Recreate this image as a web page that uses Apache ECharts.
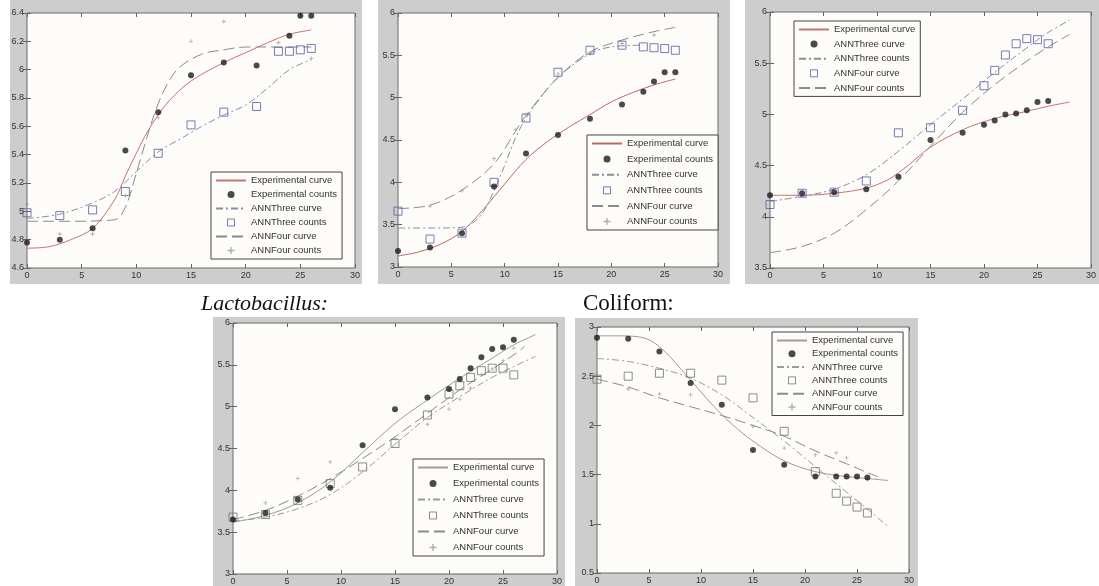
<!DOCTYPE html>
<html>
<head>
<meta charset="utf-8">
<script src="https://cdn.jsdelivr.net/npm/echarts@6/dist/echarts.min.js"></script>
<style>
html,body{margin:0;padding:0;background:#fff;}
#chart{width:1099px;height:586px;}
</style>
</head>
<body>
<div id="chart"></div>
<script>
// ---------- Panel 1 ----------
const p1ExpCurveX = [0,2,4,6,8,9,10,11,12,13,15,18,20,22,24,26];
const p1ExpCurveY = [4.74,4.75,4.80,4.88,5.08,5.25,5.41,5.56,5.68,5.78,5.92,6.05,6.12,6.19,6.25,6.28];
const p1ExpCountX = [0,3,6,9,12,15,18,21,24,25,26];
const p1ExpCountY = [4.78,4.80,4.88,5.43,5.70,5.96,6.05,6.03,6.24,6.38,6.38];
const p1ThreeCurveX = [0,3,6,8,10,12,14,16,18,20,22,24,26];
const p1ThreeCurveY = [4.95,4.98,5.06,5.14,5.28,5.42,5.51,5.60,5.68,5.75,5.87,6.00,6.07];
const p1ThreeCountX = [0,3,6,9,12,15,18,21,23,24,25,26];
const p1ThreeCountY = [4.99,4.97,5.01,5.14,5.41,5.61,5.70,5.74,6.13,6.13,6.14,6.15];
const p1FourCurveX = [0,4,8,9,10,11,12,13,14,16,18,20,23,26];
const p1FourCurveY = [4.93,4.93,4.94,5.03,5.27,5.53,5.76,5.92,6.02,6.11,6.14,6.16,6.16,6.16];
const p1FourCountX = [0,3,6,9,12,15,18,23,26];
const p1FourCountY = [5.05,4.84,4.84,5.11,5.66,6.20,6.34,6.19,6.08];

// ---------- Panel 2 ----------
const p2ExpCurveX = [0,2,4,6,8,9,10,12,14,16,18,20,22,24,26];
const p2ExpCurveY = [3.13,3.18,3.27,3.42,3.68,3.83,3.98,4.27,4.48,4.65,4.80,4.95,5.06,5.15,5.22];
const p2ExpCountX = [0,3,6,9,12,15,18,21,23,24,25,26];
const p2ExpCountY = [3.19,3.23,3.40,3.95,4.34,4.56,4.75,4.92,5.07,5.19,5.30,5.30];
const p2ThreeCurveX = [0,3,6,7,8,9,10,11,12,13,15,18,20,23];
const p2ThreeCurveY = [3.46,3.46,3.47,3.52,3.65,3.90,4.20,4.52,4.76,4.94,5.24,5.52,5.60,5.62];
const p2ThreeCountX = [0,3,6,9,12,15,18,21,23,24,25,26];
const p2ThreeCountY = [3.66,3.33,3.40,4.00,4.76,5.30,5.56,5.62,5.60,5.59,5.58,5.56];
const p2FourCurveX = [0,3,6,9,11,12,15,18,21,24,26];
const p2FourCurveY = [3.69,3.73,3.91,4.22,4.60,4.79,5.24,5.54,5.68,5.78,5.83];
const p2FourCountX = [3,6,9,11,12,15,18,21,24];
const p2FourCountY = [3.72,3.90,4.28,4.62,4.80,5.28,5.52,5.64,5.74];

// ---------- Panel 3 ----------
const p3ExpCurveX = [0,3,6,9,11,12,13,15,18,21,24,26,28];
const p3ExpCurveY = [4.21,4.21,4.23,4.28,4.36,4.43,4.51,4.68,4.85,4.96,5.03,5.08,5.12];
const p3DotX = [0,3,6,9,12,15,18,20,21,22,23,24,25,26];
const p3DotY = [4.21,4.23,4.24,4.27,4.39,4.75,4.82,4.90,4.94,5.00,5.01,5.04,5.12,5.13];
const p3DashDotX = [0,3,6,9,12,15,18,21,24,26,28];
const p3DashDotY = [4.15,4.20,4.27,4.41,4.64,4.90,5.15,5.41,5.65,5.80,5.92];
const p3SquareX = [0,3,6,9,12,15,18,20,21,22,23,24,25,26];
const p3SquareY = [4.12,4.23,4.24,4.35,4.82,4.87,5.04,5.28,5.43,5.58,5.69,5.74,5.73,5.69];
const p3LongDashX = [0,3,6,9,12,15,18,21,24,26,28];
const p3LongDashY = [3.65,3.71,3.84,4.07,4.35,4.69,5.02,5.29,5.52,5.66,5.78];

// ---------- Panel 4 (Lactobacillus) ----------
const p4ExpCurveX = [0,3,6,9,12,15,18,21,24,26,28];
const p4ExpCurveY = [3.62,3.70,3.85,4.10,4.45,4.80,5.08,5.34,5.58,5.74,5.86];
const p4ExpCountX = [0,3,6,9,12,15,18,20,21,22,23,24,25,26];
const p4ExpCountY = [3.65,3.73,3.89,4.03,4.54,4.97,5.11,5.21,5.33,5.46,5.59,5.69,5.71,5.80];
const p4ThreeCurveX = [0,3,6,9,12,15,18,21,24,26,28];
const p4ThreeCurveY = [3.63,3.68,3.78,3.95,4.22,4.55,4.87,5.12,5.35,5.48,5.60];
const p4ThreeCountX = [0,3,6,9,12,15,18,20,21,22,23,24,25,26];
const p4ThreeCountY = [3.68,3.71,3.88,4.08,4.28,4.56,4.90,5.15,5.25,5.35,5.43,5.46,5.46,5.38];
const p4FourCurveX = [0,3,6,9,12,15,18,21,24,26,27];
const p4FourCurveY = [3.65,3.76,3.93,4.14,4.38,4.64,4.92,5.20,5.45,5.62,5.72];
const p4FourCountX = [0,3,6,9,15,18,20,21,22,23,24,25,26];
const p4FourCountY = [3.66,3.85,4.14,4.34,4.62,4.79,4.97,5.09,5.22,5.38,5.45,5.55,5.70];

// ---------- Panel 5 (Coliform) ----------
const p5ExpCurveX = [0,2,4,5,6,7,8,9,10,11,12,13,15,18,21,24,26,28];
const p5ExpCurveY = [2.91,2.91,2.90,2.87,2.80,2.70,2.58,2.46,2.34,2.22,2.11,2.01,1.84,1.64,1.53,1.48,1.46,1.44];
const p5ExpCountX = [0,3,6,9,12,15,18,21,23,24,25,26];
const p5ExpCountY = [2.89,2.88,2.75,2.43,2.21,1.75,1.60,1.48,1.48,1.48,1.48,1.47];
const p5ThreeCurveX = [0,3,6,9,12,15,18,21,24,26,28];
const p5ThreeCurveY = [2.68,2.65,2.58,2.48,2.31,2.08,1.84,1.58,1.32,1.15,0.97];
const p5ThreeCountX = [0,3,6,9,12,15,18,21,23,24,25,26];
const p5ThreeCountY = [2.47,2.50,2.53,2.53,2.46,2.28,1.94,1.53,1.31,1.23,1.17,1.11];
const p5FourCurveX = [0,3,6,9,12,15,18,21,24,26,27];
const p5FourCurveY = [2.47,2.39,2.28,2.19,2.10,2.00,1.89,1.74,1.61,1.52,1.48];
const p5FourCountX = [0,3,6,9,15,18,21,23,24,26];
const p5FourCountY = [2.47,2.37,2.32,2.31,1.99,1.77,1.70,1.72,1.67,1.45];

// ---------- axes ----------
const xRange = [0, 30, 5];
const yRanges = [[4.6, 6.4, 0.2], [3, 6, 0.5], [3.5, 6, 0.5], [3, 6, 0.5], [0.5, 3, 0.5]];
const titles = ["", "", "", "Lactobacillus:", "Coliform:"];
const legendLabels = {
  exp: "Experimental curve", expc: "Experimental counts",
  three: "ANNThree curve", threec: "ANNThree counts",
  four: "ANNFour curve", fourc: "ANNFour counts"
};

// ---------- layout ----------
const grids = [
  {left: 27, top: 13, width: 328, height: 255},
  {left: 398, top: 13, width: 320, height: 254},
  {left: 770, top: 12, width: 321, height: 256},
  {left: 233, top: 323, width: 324, height: 252},
  {left: 597, top: 327, width: 312, height: 246}
];
const panelBg = [
  [10, 0, 352, 284], [378, 0, 352, 284], [745, 0, 354, 284],
  [213, 317, 352, 269], [575, 318, 343, 268]
];
const legendPos = [[211, 172], [587, 135], [794, 21], [413, 459], [772, 332]];
const legendGap = [3, 4.6, 3.6, 5, 2.3];

const zip = (xs, ys) => xs.map((x, i) => [x, ys[i]]);
const PLUS = 'path://M4,0H6V4H10V6H6V10H4V6H0V4H4Z';
const SQUARE = 'path://M0,0H10V10H0Z';
const DASHDOT = [7, 3, 2, 3];
const LONGDASH = [11, 5];

function lineS(id, gi, xs, ys, color, type) {
  return {type: 'line', name: id, xAxisIndex: gi, yAxisIndex: gi, data: zip(xs, ys),
    smooth: 0.35, symbol: 'none', silent: true,
    lineStyle: {color: color, width: 1, type: type}, itemStyle: {color: color}, z: 2};
}
function dotS(id, gi, xs, ys) {
  return {type: 'scatter', name: id, xAxisIndex: gi, yAxisIndex: gi, data: zip(xs, ys),
    symbol: 'circle', symbolSize: 6, silent: true, itemStyle: {color: '#1c1c1c'}, z: 4};
}
function sqS(id, gi, xs, ys, color) {
  return {type: 'scatter', name: id, xAxisIndex: gi, yAxisIndex: gi, data: zip(xs, ys),
    symbol: 'rect', symbolSize: 8, silent: true,
    itemStyle: {color: 'transparent', borderColor: color, borderWidth: 1}, z: 3};
}
function plusS(id, gi, xs, ys) {
  return {type: 'scatter', name: id, xAxisIndex: gi, yAxisIndex: gi, data: zip(xs, ys),
    symbol: PLUS, symbolSize: 4, silent: true, itemStyle: {color: '#9a9a9a'}, z: 3};
}

const series = [];
const labelMap = {};
const legendData = [[], [], [], [], []];
function add(gi, kind, s, label) {
  series.push(s);
  labelMap[s.name] = label;
  const item = {name: s.name};
  if (kind === 'line') item.itemStyle = {opacity: 0};
  if (kind === 'square') { item.icon = SQUARE; item.itemStyle = {color: 'transparent', borderColor: s.itemStyle.borderColor, borderWidth: 1}; }
  if (kind === 'plus') item.icon = PLUS;
  if (kind === 'dot') item.icon = 'circle';
  legendData[gi].push(item);
}
const curveRed = ['#c47474', '#b86a6a', '#c47474', '#9c9c9c', '#a49898'];
const sqColor = ['#5a5aa6', '#5a5aa6', '#5a5aa6', '#707070', '#707070'];
const ddColor = ['#8c8ca8', '#8c8ca0', '#8c8ca0', '#9a9a9a', '#9a9a9a'];

const P = [
  [p1ExpCurveX, p1ExpCurveY, p1ExpCountX, p1ExpCountY, p1ThreeCurveX, p1ThreeCurveY, p1ThreeCountX, p1ThreeCountY, p1FourCurveX, p1FourCurveY, p1FourCountX, p1FourCountY],
  [p2ExpCurveX, p2ExpCurveY, p2ExpCountX, p2ExpCountY, p2ThreeCurveX, p2ThreeCurveY, p2ThreeCountX, p2ThreeCountY, p2FourCurveX, p2FourCurveY, p2FourCountX, p2FourCountY],
  null,
  [p4ExpCurveX, p4ExpCurveY, p4ExpCountX, p4ExpCountY, p4ThreeCurveX, p4ThreeCurveY, p4ThreeCountX, p4ThreeCountY, p4FourCurveX, p4FourCurveY, p4FourCountX, p4FourCountY],
  [p5ExpCurveX, p5ExpCurveY, p5ExpCountX, p5ExpCountY, p5ThreeCurveX, p5ThreeCurveY, p5ThreeCountX, p5ThreeCountY, p5FourCurveX, p5FourCurveY, p5FourCountX, p5FourCountY]
];
[0, 1, 3, 4].forEach(gi => {
  const d = P[gi];
  add(gi, 'line', lineS('p' + gi + 'exp', gi, d[0], d[1], curveRed[gi], 'solid'), legendLabels.exp);
  add(gi, 'dot', dotS('p' + gi + 'expc', gi, d[2], d[3]), legendLabels.expc);
  add(gi, 'line', lineS('p' + gi + 'three', gi, d[4], d[5], ddColor[gi], DASHDOT), legendLabels.three);
  add(gi, 'square', sqS('p' + gi + 'threec', gi, d[6], d[7], sqColor[gi]), legendLabels.threec);
  add(gi, 'line', lineS('p' + gi + 'four', gi, d[8], d[9], '#8a8a8a', LONGDASH), legendLabels.four);
  add(gi, 'plus', plusS('p' + gi + 'fourc', gi, d[10], d[11]), legendLabels.fourc);
});
// panel 3 legend as printed in the figure
add(2, 'line', lineS('p2a', 2, p3ExpCurveX, p3ExpCurveY, curveRed[2], 'solid'), "Experimental curve");
add(2, 'dot', dotS('p2b', 2, p3DotX, p3DotY), "ANNThree curve");
add(2, 'line', lineS('p2c', 2, p3DashDotX, p3DashDotY, ddColor[2], DASHDOT), "ANNThree counts");
add(2, 'square', sqS('p2d', 2, p3SquareX, p3SquareY, sqColor[2]), "ANNFour curve");
add(2, 'line', lineS('p2e', 2, p3LongDashX, p3LongDashY, '#8a8a8a', LONGDASH), "ANNFour counts");

const FONT = 'Liberation Sans, Arial, sans-serif';
const xAxes = [], yAxes = [];
grids.forEach((g, gi) => {
  const yr = yRanges[gi];
  xAxes.push({type: 'value', gridIndex: gi, min: xRange[0], max: xRange[1], interval: xRange[2],
    axisLine: {show: false}, splitLine: {show: false},
    axisTick: {inside: true, length: 4, lineStyle: {color: '#666'}},
    axisLabel: {margin: 3, fontSize: 9, color: '#333', fontFamily: FONT}});
  yAxes.push({type: 'value', gridIndex: gi, min: yr[0], max: yr[1], interval: yr[2],
    axisLine: {show: false}, splitLine: {show: false},
    axisTick: {inside: true, length: 4, lineStyle: {color: '#666'}},
    axisLabel: {margin: 3, fontSize: 9, color: '#333', fontFamily: FONT}});
});
grids.forEach((g, gi) => {
  const yr = yRanges[gi];
  xAxes.push({type: 'value', gridIndex: gi, position: 'top', min: xRange[0], max: xRange[1], interval: xRange[2],
    axisLine: {show: false}, splitLine: {show: false}, axisLabel: {show: false},
    axisTick: {inside: true, length: 4, lineStyle: {color: '#666'}}});
  yAxes.push({type: 'value', gridIndex: gi, position: 'right', min: yr[0], max: yr[1], interval: yr[2],
    axisLine: {show: false}, splitLine: {show: false}, axisLabel: {show: false},
    axisTick: {inside: true, length: 4, lineStyle: {color: '#666'}}});
});

const graphics = panelBg.map(r => ({type: 'rect', z: -10, silent: true,
  shape: {x: r[0], y: r[1], width: r[2], height: r[3]}, style: {fill: '#cdcdcd'}}));
graphics.push({type: 'text', z: 10, silent: true, style: {x: 201, y: 304, text: titles[3],
  font: 'italic 22px "Liberation Serif", "Times New Roman", serif', fill: '#111', textVerticalAlign: 'middle'}});
graphics.push({type: 'text', z: 10, silent: true, style: {x: 583, y: 304, text: titles[4],
  font: '23px "Liberation Serif", "Times New Roman", serif', fill: '#111', textVerticalAlign: 'middle'}});

const legends = legendPos.map((p, gi) => ({
  left: p[0], top: p[1], orient: 'vertical', data: legendData[gi],
  formatter: n => labelMap[n], selectedMode: false,
  itemWidth: 30, itemHeight: 7, itemGap: legendGap[gi],
  padding: [3, 5, 3, 4], borderColor: '#444', borderWidth: 1, backgroundColor: '#fdfcf8',
  textStyle: {fontSize: 9.5, color: '#333', fontFamily: FONT, lineHeight: 11}
}));

const chart = echarts.init(document.getElementById('chart'), null, {renderer: 'canvas'});
chart.setOption({
  animation: false,
  backgroundColor: '#ffffff',
  grid: grids.map(g => Object.assign({show: true, backgroundColor: '#fdfcf8', borderColor: '#6a6a6a', borderWidth: 1, containLabel: false}, g)),
  xAxis: xAxes,
  yAxis: yAxes,
  legend: legends,
  graphic: graphics,
  series: series
});
</script>
</body>
</html>
